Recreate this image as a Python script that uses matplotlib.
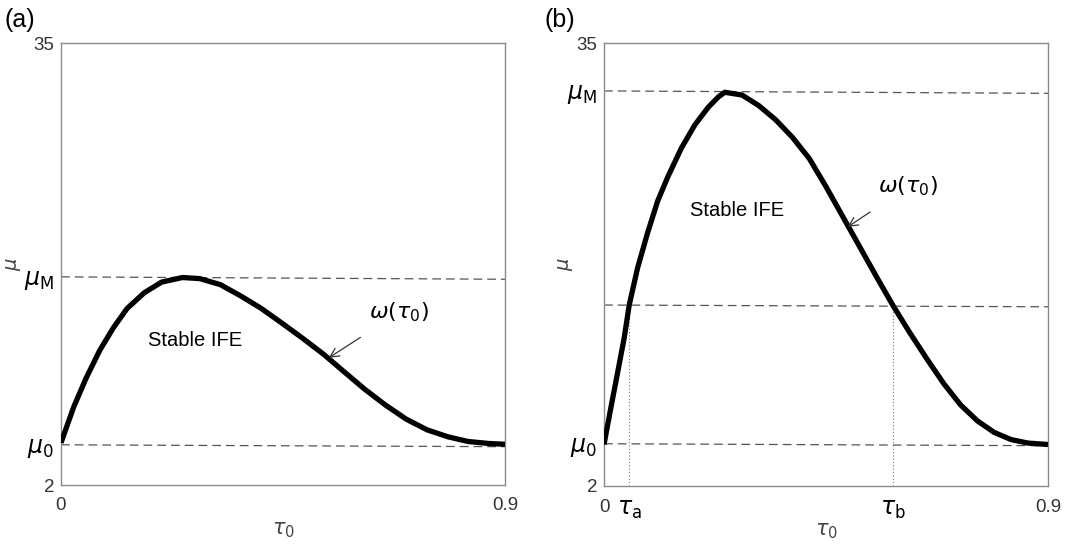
import matplotlib
matplotlib.use("Agg")
import matplotlib.pyplot as plt
import numpy as np

plt.rcParams['font.family'] = ['Liberation Sans', 'DejaVu Sans']
plt.rcParams['mathtext.fontset'] = 'dejavusans'

# Panel (a) curve omega(tau0)
tau_a_curve = [0.0, 0.0258, 0.0503, 0.0782, 0.106, 0.134, 0.169, 0.204, 0.246, 0.281,
               0.323, 0.365, 0.406, 0.448, 0.490, 0.532, 0.574, 0.616, 0.658, 0.700,
               0.742, 0.784, 0.825, 0.867, 0.9]
mu_a_curve = [5.15, 7.83, 9.93, 12.03, 13.73, 15.18, 16.36, 17.15, 17.49, 17.41,
              16.96, 16.10, 15.18, 14.08, 12.95, 11.77, 10.45, 9.14, 7.96, 6.91,
              6.12, 5.60, 5.25, 5.10, 5.04]
# Panel (b) curve omega(tau0)
tau_b_curve = [0.0, 0.0136, 0.0273, 0.0409, 0.0511, 0.0682, 0.0886, 0.109, 0.130, 0.157,
               0.184, 0.211, 0.232, 0.245, 0.280, 0.314, 0.348, 0.382, 0.416, 0.450,
               0.484, 0.518, 0.552, 0.586, 0.620, 0.655, 0.689, 0.723, 0.757, 0.791,
               0.825, 0.859, 0.9]
mu_b_curve = [5.09, 7.77, 10.39, 13.02, 15.48, 18.26, 20.89, 23.25, 25.08, 27.18,
              28.89, 30.20, 30.99, 31.33, 31.12, 30.33, 29.28, 27.97, 26.40, 24.30,
              22.07, 19.84, 17.61, 15.43, 13.41, 11.44, 9.61, 8.03, 6.85, 5.99,
              5.46, 5.20, 5.09]

# Reference dashed levels (left end, right end)
a_muM = (17.54, 17.36)
a_mu0 = (5.0, 4.86)
b_muM = (31.43, 31.25)
b_mid = (15.48, 15.35)
b_mu0 = (5.15, 5.0)
tau_a = 0.051
tau_b = 0.586

xlim = (0, 0.9)
ylim = (2, 35)

fig = plt.figure(figsize=(10.67, 5.52), dpi=100)
axA = fig.add_axes([61/1067, (552-485)/552, 444/1067, 442/552])
axB = fig.add_axes([604/1067, (552-486)/552, 444/1067, 443/552])

dash_kw = dict(color='#555555', lw=0.9, ls=(0, (7, 4)), zorder=1)
frame_col = '#8a8a8a'
tick_col = '#333333'

def style(ax, ylab_x):
    ax.set_xlim(*xlim)
    ax.set_ylim(*ylim)
    for s in ax.spines.values():
        s.set_color(frame_col)
        s.set_linewidth(1.0)
    ax.tick_params(length=0, labelsize=13.5, colors=tick_col)
    ax.tick_params(axis='x', pad=9)
    ax.tick_params(axis='y', pad=5)
    ax.set_ylabel(r'$\mu$', fontsize=14, color='#444444')
    ax.yaxis.set_label_coords(ylab_x, 0.5)
    ax.set_xlabel(r'$\tau_0$', fontsize=15, color='#444444')
    ax.xaxis.set_label_coords(0.5, -0.08)

def big(labels):
    for lab in labels:
        lab.set_fontsize(17)
        lab.set_color('black')

line_kw = dict(color='black', lw=3.8, solid_capstyle='butt', solid_joinstyle='round', zorder=3)

# Panel (a)
style(axA, -0.085)
axA.plot(xlim, a_muM, **dash_kw)
axA.plot(xlim, a_mu0, **dash_kw)
axA.plot(tau_a_curve, mu_a_curve, **line_kw)
axA.set_xticks([0, 0.9])
axA.set_xticklabels(['0', '0.9'])
axA.set_yticks([2, a_mu0[0], a_muM[0], 35])
axA.set_yticklabels(['2', r'$\mu_0$', r'$\mu_{\mathrm{M}}$', '35'])
big(axA.get_yticklabels()[1:3])
axA.text(0.272, 12.8, 'Stable IFE', fontsize=14.5, ha='center', va='center')
axA.annotate(r'$\omega(\tau_0)$', xy=(0.543, 11.5), xytext=(0.686, 14.9),
             fontsize=16, ha='center', va='center',
             arrowprops=dict(arrowstyle='->', color='#333333', lw=0.9,
                             shrinkA=14, shrinkB=0))
fig.text(4/1067, 1 - 20/552, '(a)', fontsize=18, va='center', ha='left')

# Panel (b)
style(axB, -0.065)
axB.plot(xlim, b_muM, **dash_kw)
axB.plot(xlim, b_mid, **dash_kw)
axB.plot(xlim, b_mu0, **dash_kw)
dot_kw = dict(color='#777777', lw=0.8, ls=(0, (1, 2)), zorder=1)
axB.plot([tau_a, tau_a], [2, b_mid[0]], **dot_kw)
axB.plot([tau_b, tau_b], [2, b_mid[0]], **dot_kw)
axB.plot(tau_b_curve, mu_b_curve, **line_kw)
axB.set_xticks([0, tau_a, tau_b, 0.9])
axB.set_xticklabels(['0', r'$\tau_{\mathrm{a}}$', r'$\tau_{\mathrm{b}}$', '0.9'])
big(axB.get_xticklabels()[1:3])
axB.set_yticks([2, b_mu0[0], b_muM[0], 35])
axB.set_yticklabels(['2', r'$\mu_0$', r'$\mu_{\mathrm{M}}$', '35'])
big(axB.get_yticklabels()[1:3])
axB.text(0.269, 22.5, 'Stable IFE', fontsize=14.5, ha='center', va='center')
axB.annotate(r'$\omega(\tau_0)$', xy=(0.494, 21.3), xytext=(0.617, 24.3),
             fontsize=16, ha='center', va='center',
             arrowprops=dict(arrowstyle='->', color='#333333', lw=0.9,
                             shrinkA=14, shrinkB=0))
fig.text(545/1067, 1 - 20/552, '(b)', fontsize=18, va='center', ha='left')

fig.savefig('out.png', dpi=100)
